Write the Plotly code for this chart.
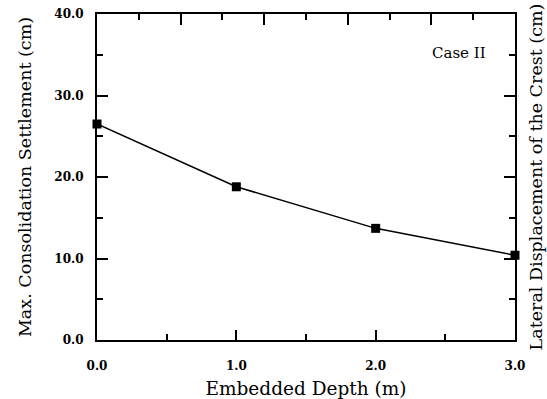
import plotly.graph_objects as go

depth = [0.0, 1.0, 2.0, 3.0]
settlement = [26.5, 18.8, 13.7, 10.4]
x_ticks = [0.0, 1.0, 2.0, 3.0]
x_labels = ["0.0", "1.0", "2.0", "3.0"]
y_ticks = [0, 10, 20, 30, 40]
y_labels = ["0.0", "10.0", "20.0", "30.0", "40.0"]

FONT = "DejaVu Serif"
fig = go.Figure()
fig.add_trace(go.Scatter(x=depth, y=settlement, mode="lines+markers",
                         line=dict(color="black", width=1.5),
                         marker=dict(symbol="square", size=9, color="black"),
                         cliponaxis=False, showlegend=False))
# invisible trace to activate the secondary axes
fig.add_trace(go.Scatter(x=[None], y=[None], xaxis="x2", yaxis="y2", showlegend=False))

axis_common = dict(showgrid=False, zeroline=False, showline=True, linecolor="black",
                   linewidth=2, ticks="inside", tickcolor="black", tickwidth=1.5,
                   automargin=False)
fig.update_layout(
    width=547, height=399,
    margin=dict(l=97, r=32, t=14, b=59),
    paper_bgcolor="white", plot_bgcolor="white",
    font=dict(family=FONT, color="black"),
    xaxis=dict(range=[0, 3], tickvals=x_ticks, ticktext=x_labels, ticklen=10,
               minor=dict(dtick=0.5, tick0=0, ticks="inside", ticklen=6, tickcolor="black"),
               tickfont=dict(size=12, family=FONT, weight="bold"), ticklabelstandoff=14,
               title=dict(text="Embedded Depth (m)", font=dict(size=18.5), standoff=14),
               **axis_common),
    xaxis2=dict(range=[0, 3], overlaying="x", side="top", tickvals=[0.6, 1.2, 1.8, 2.4],
                showticklabels=False, ticklen=11,
                minor=dict(dtick=0.3, tick0=0, ticks="inside", ticklen=6, tickcolor="black"),
                **axis_common),
    yaxis=dict(range=[0, 40], tickvals=y_ticks, ticktext=y_labels, ticklen=11,
               minor=dict(dtick=5, tick0=0, ticks="inside", ticklen=6, tickcolor="black"),
               tickfont=dict(size=12, family=FONT, weight="bold"), ticklabelstandoff=9,
               title=dict(text="Max. Consolidation Settlement (cm)", font=dict(size=17.5), standoff=18),
               **axis_common),
    yaxis2=dict(range=[0, 40], overlaying="y", side="right", tickvals=y_ticks,
                showticklabels=False, ticklen=11,
                minor=dict(dtick=5, tick0=0, ticks="inside", ticklen=6, tickcolor="black"),
                title=dict(text="Lateral Displacement of the Crest (cm)", font=dict(size=17.5), standoff=14),
                **axis_common),
    annotations=[dict(text="Case II", x=0.935, y=0.88, xref="paper", yref="paper",
                      showarrow=False, font=dict(size=15, family=FONT), xanchor="right", yanchor="middle")],
)
fig.write_html("out.html")
